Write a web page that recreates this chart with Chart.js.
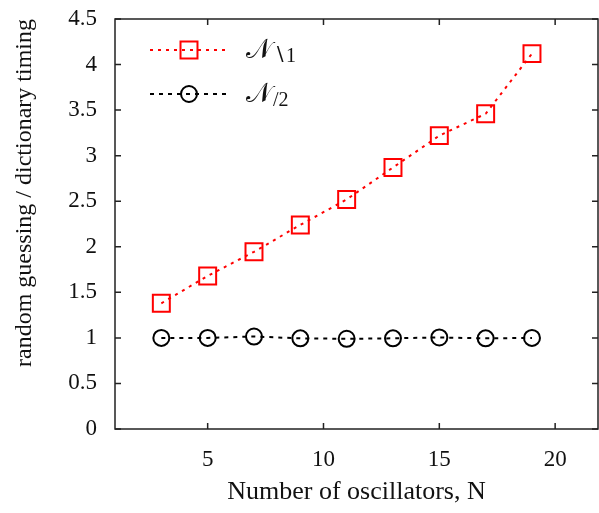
<!DOCTYPE html>
<html>
<head>
<meta charset="utf-8">
<script src="https://cdn.jsdelivr.net/npm/chart.js@4/dist/chart.umd.min.js"></script>
<style>
  html, body { margin: 0; padding: 0; background: #fff; }
</style>
</head>
<body>
<canvas id="chart" width="599" height="513"></canvas>
<script>
// data
const oscillators = [3, 5, 7, 9, 11, 13, 15, 17, 19];
const setMinusOne = [1.38, 1.68, 1.945, 2.24, 2.52, 2.87, 3.22, 3.46, 4.12];
const halfSplit = [1.0, 1.0, 1.015, 0.995, 0.99, 0.995, 1.005, 0.995, 1.0];
const xTicks = [5, 10, 15, 20];
const yTicks = [0, 0.5, 1, 1.5, 2, 2.5, 3, 3.5, 4, 4.5];
const seriesNames = ['\u22161', '/2'];

const serif = '"Liberation Serif", "DejaVu Serif", serif';

const toPoints = (ys) => oscillators.map((n, i) => ({ x: n, y: ys[i] }));

// frame, inward ticks on all four sides and a legend with line + marker
const frameAndLegend = {
  id: 'frameAndLegend',
  afterDraw(chart) {
    const { ctx, chartArea: a, scales: { x, y } } = chart;
    ctx.save();
    ctx.strokeStyle = '#222';
    ctx.lineWidth = 1.5;
    ctx.strokeRect(a.left, a.top, a.right - a.left, a.bottom - a.top);
    ctx.beginPath();
    xTicks.forEach(v => {
      const px = x.getPixelForValue(v);
      ctx.moveTo(px, a.bottom); ctx.lineTo(px, a.bottom - 6);
      ctx.moveTo(px, a.top); ctx.lineTo(px, a.top + 6);
    });
    yTicks.forEach(v => {
      const py = y.getPixelForValue(v);
      ctx.moveTo(a.left, py); ctx.lineTo(a.left + 6, py);
      ctx.moveTo(a.right, py); ctx.lineTo(a.right - 6, py);
    });
    ctx.stroke();

    chart.data.datasets.forEach((ds, i) => {
      const rowY = a.top + 31 + i * 44;
      ctx.strokeStyle = ds.borderColor;
      ctx.lineWidth = 2;
      ctx.setLineDash(ds.borderDash);
      ctx.beginPath();
      ctx.moveTo(150, rowY); ctx.lineTo(226, rowY);
      ctx.stroke();
      ctx.setLineDash([]);
      ctx.fillStyle = 'rgba(0,0,0,0)';
      Chart.helpers.drawPoint(ctx, {
        pointStyle: ds.pointStyle, radius: ds.pointRadius,
        borderWidth: ds.pointBorderWidth, rotation: 0
      }, 189, rowY);

      ctx.fillStyle = '#111';
      ctx.textBaseline = 'alphabetic';
      ctx.font = '27px ' + serif;
      ctx.fillText('\u{1D4A9}', 246, rowY + 8);
      const w = ctx.measureText('\u{1D4A9}').width;
      ctx.font = '20px ' + serif;
      ctx.fillText(seriesNames[i], 246 + w + 1, rowY + 12);
    });
    ctx.restore();
  }
};

new Chart(document.getElementById('chart'), {
  type: 'scatter',
  data: {
    datasets: [
      {
        label: 'N\u22161',
        data: toPoints(setMinusOne),
        showLine: true,
        borderColor: '#ff0000',
        borderWidth: 2,
        borderDash: [3, 5],
        pointStyle: 'rect',
        pointRadius: 12,
        pointBorderWidth: 2,
        pointBorderColor: '#ff0000',
        pointBackgroundColor: 'rgba(0,0,0,0)'
      },
      {
        label: 'N/2',
        data: toPoints(halfSplit),
        showLine: true,
        borderColor: '#000000',
        borderWidth: 2,
        borderDash: [4, 5],
        pointStyle: 'circle',
        pointRadius: 8,
        pointBorderWidth: 2,
        pointBorderColor: '#000000',
        pointBackgroundColor: 'rgba(0,0,0,0)'
      }
    ]
  },
  options: {
    responsive: false,
    animation: false,
    layout: { autoPadding: false, padding: { left: 0, right: 1, top: 19, bottom: 0 } },
    plugins: {
      legend: { display: false },
      tooltip: { enabled: false }
    },
    scales: {
      x: {
        type: 'linear',
        min: 1,
        max: 21.85,
        afterBuildTicks: (s) => { s.ticks = xTicks.map(v => ({ value: v })); },
        afterFit: (s) => { s.height = 84; s.paddingLeft = 0; s.paddingRight = 0; },
        grid: { display: true, drawOnChartArea: false, drawTicks: true, tickLength: 17, tickColor: 'rgba(0,0,0,0)' },
        border: { display: false },
        ticks: { padding: 0, color: '#111', font: { family: serif, size: 23 }, callback: (v) => String(v) },
        title: {
          display: true,
          text: 'Number of oscillators, N',
          color: '#111',
          font: { family: serif, size: 26 },
          padding: { top: 0, bottom: 5 }
        }
      },
      y: {
        type: 'linear',
        min: 0,
        max: 4.5,
        afterBuildTicks: (s) => { s.ticks = yTicks.map(v => ({ value: v })); },
        afterFit: (s) => { s.width = 115; s.paddingTop = 0; s.paddingBottom = 0; },
        grid: { display: false, drawTicks: false },
        border: { display: false },
        ticks: { padding: 18, color: '#111', font: { family: serif, size: 23 }, callback: (v) => String(v) },
        title: {
          display: true,
          align: 'end',
          text: 'random guessing / dictionary timing',
          color: '#111',
          font: { family: serif, size: 24 },
          padding: { top: 10, bottom: 0 }
        }
      }
    }
  },
  plugins: [frameAndLegend]
});
</script>
</body>
</html>
